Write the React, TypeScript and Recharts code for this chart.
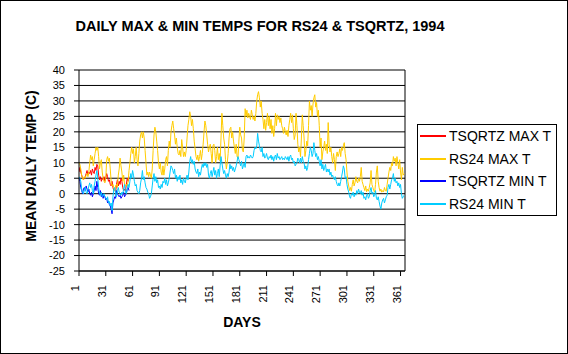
import { LineChart, Line, XAxis, YAxis, CartesianGrid, ReferenceLine, Customized } from 'recharts';

// daily values, one entry per day
const rs24Max = [
  10, 9.5, 8, 6, 5, 4.5, 5.5, 5, 6, 6.5,
  5.5, 7, 10, 12.5, 11, 12, 9, 11, 13, 15,
  14, 15, 12, 8, 10, 11, 7, 5, 4, 3.5,
  5, 11, 12, 10.5, 11.5, 8, 4, 2.5, 3, 2,
  1, 2.5, 3, 2, 6, 8, 11.5, 9, 7, 4,
  6, 3, 2.5, 3, 2.5, 4, 7.5, 10, 13, 15,
  13, 14.5, 10, 12, 15, 11, 9, 13, 17, 19,
  20, 18, 20, 18, 14, 10, 6, 7, 5.5, 7,
  6, 5, 8, 14, 19, 21.5, 20, 17, 14, 10,
  8, 10, 7, 6, 9, 6, 8, 11, 12, 9,
  14, 17, 15, 20, 22, 23.5, 21, 19, 16, 18,
  15, 13, 12.5, 14, 12, 17.5, 15, 12, 13.5, 12,
  14, 18, 22, 24, 26.5, 25, 22, 24, 21, 17,
  14.5, 12, 11, 12.5, 10.5, 12, 14, 11, 13, 16,
  20, 23.5, 22, 19, 16, 13.5, 15, 16, 13, 10,
  15.5, 16, 14, 10, 12, 15, 11, 13, 10.5, 18,
  26, 22, 18, 16, 11, 8, 10, 13, 18, 21,
  21.5, 18, 20, 17, 15, 13, 16, 12, 11.5, 17,
  21.5, 19, 18, 14, 13.5, 18, 27.5, 25, 27, 24.5,
  26, 25, 24, 27, 25.5, 24, 25, 23.5, 26, 30,
  32, 33, 31, 28, 30, 26, 24, 21, 24, 20.5,
  23, 26, 22, 25, 21, 24, 19.5, 22, 18.5, 21,
  26, 22, 25.5, 24, 25, 23, 24.5, 22, 21, 19.5,
  21.5, 20, 19, 20.5, 18.5, 22, 24, 26, 23, 25.5,
  21, 17.5, 19, 26, 22, 16, 13.5, 15, 12, 18,
  25.5, 22, 18, 12, 14, 17, 15.5, 22, 30, 27,
  28.5, 25, 29, 31, 32, 28, 29.5, 25, 27, 22,
  15, 18, 11, 13.5, 15, 17, 14, 16, 13, 23,
  16, 13.5, 15, 12, 10, 13, 11, 7.5, 12, 13.5,
  12, 13, 14.5, 12, 15, 14, 15.5, 16.5, 13, 11,
  7, 4, 2.5, 1, 2, 0.8, 3, 4.5, 2.5, 3.5,
  5.5, 4, 3.5, 5, 4, 5.5, 8.5, 4, 3, 2,
  1, 2.5, 0.6, 1.5, 0.8, 2, 3.5, 7.5, 3, 2,
  1, 0.5, 3, 7, 9, 4, 2, 0.8, 1.5, 0.5,
  1, 0.6, 2, 1, 0.8, 3, 5, 7, 8.5, 7.5,
  10, 9, 12, 10.5, 11.5, 9, 12, 10, 8, 11,
  7, 4.5, 8.5, 6, 6.5,
];

const rs24Min = [
  5.5, 5, 4, 1.5, 0.5, 0, 1, 2, 0.5, 0,
  1, 2.5, 3.5, 2, 3, 1, 0, 2.5, 4, 6,
  7.5, 5, 2, 0, -0.5, 0.5, -1, -0.5, 0, -1,
  -1.5, -2, -1, -3, -2.5, -4, -3, -5.5, -1, 1.5,
  2, 0, -1, 1, 2, 0.5, 0, -0.5, 0.5, 0,
  1.5, 3, 0.5, 0, 1.5, 3, 2, 4, 6.5, 5,
  7.5, 6, 4, 2.5, 3, 1, 0.5, 0, 1, 3.5,
  5, 7.5, 4.5, 5.5, 3.5, 2, 1.5, 0.5, 0, -1.5,
  -1, 0, 2.5, 5, 6.5, 4, 5.5, 3.5, 4.5, 2,
  2.5, 1.5, 3, 2, 4, 3.5, 5, 3, 4.5, 2.5,
  3.5, 5, 7, 9, 8.5, 7.5, 6.5, 8, 5, 6,
  4, 5.5, 4.5, 6, 3.5, 4.5, 3, 5, 4, 3.5,
  5, 6, 4.5, 7, 10.5, 12, 10, 11, 9.5, 10.5,
  8, 7, 6.5, 8, 5.5, 7, 6, 8, 9.5, 8.5,
  10, 9, 10, 8.5, 9.5, 6, 5, 6.5, 7.5, 5.5,
  7, 8.5, 6, 7.5, 5, 6.5, 8, 5.5, 9, 12,
  10, 8, 6.5, 7.5, 6, 5, 6.5, 5.5, 7, 9.5,
  8, 9, 7.5, 8.5, 7, 8, 9, 10.5, 12, 11,
  10, 9, 10.5, 8, 9, 10, 8.5, 12, 12.5, 11.5,
  12, 11.5, 12.5, 12, 11.5, 12, 14, 15, 14.5, 15.5,
  19.5, 17, 15.5, 14, 13.5, 15, 12, 13, 11.5, 12,
  13, 11.5, 11, 12, 11.5, 12.5, 11, 12, 10.5, 12,
  12.5, 11, 13, 11.5, 12, 11, 11.5, 12, 11, 11.5,
  11, 12, 11.5, 11, 12, 10.5, 12, 12.5, 11, 11.5,
  10, 10.5, 9, 9.5, 10, 11.5, 11, 10, 11.5, 10,
  12, 10.5, 10, 8, 9, 7.5, 8.5, 11, 13, 15,
  14, 12, 13, 16.5, 14, 12, 13, 11, 12, 10.5,
  9, 11, 8, 9.5, 7.5, 8.5, 9.5, 7, 8, 7,
  8, 6, 7, 5.5, 6, 5, 4.5, 5.5, 4, 3,
  2.5, 3.5, 2.5, 4, 5.5, 7, 9, 8, 5, 5.5,
  3, 1.5, 0.5, -1, -1.5, 0, -0.5, 0.5, -1, 0,
  -0.5, 1, 0, 1.5, 0.5, 0, 1, -0.5, 0.5, -1.5,
  -1, -2, -0.5, 0, -1.5, -1, 1, 2, 0, 0.5,
  -1, -0.5, 1, -1.5, -2, -1, -2.5, -4, -5, -3,
  -2, -1.5, -3, -2, -1, -0.5, 2, 3, 1.5, 3,
  4.5, 5, 6.5, 4, 5, 3.5, 4, 2.5, 3.5, 2,
  3, 0, -1.5, -1, -0.5,
];

// TSQRTZ only logged the first 57 days
const tsqMax = [
  7, 8.5, 7, 6, 5, 4.5, 5, 5.5, 6.5, 7.5,
  6, 7, 6.5, 7.5, 6, 8, 7, 6.5, 8.5, 7.5,
  9.5, 9, 6, 4.5, 5.5, 4, 5, 4.5, 5.5, 4,
  5, 6.5, 5.5, 4, 4.5, 3, 2.5, 4, 2, 1,
  1.5, 0.5, 3, 4.5, 2.5, 4, 3, 5, 4, 2,
  1, 1.5, 0.8, 3, 5, 4, 5.5,
];

const tsqMin = [
  5, 4, 2, 1, 0, 1.5, 2, 1, 2.5, 1.5,
  0.5, 1.5, 0, -0.5, 0.5, -1, 0, 1, 2.5, 1,
  4, 2, 0, -0.5, 1, -1, 0, -1.5, -0.5, -1,
  -2, -1.5, -3, -2.5, -3.5, -4, -5, -6.5, -3, -2,
  -1, -1.5, 1, 0, -0.5, -1, -0.5, -1.5, -1, -0.5,
  0.5, -1, -0.5, 0, 1.5, 2, 1,
];

const dayTicks = [1, 31, 61, 91, 121, 151, 181, 211, 241, 271, 301, 331, 361];
const tempTicks = [-25, -20, -15, -10, -5, 0, 5, 10, 15, 20, 25, 30, 35, 40];

const series = [
  { key: 'tsqMax', name: 'TSQRTZ MAX T', color: '#ff0000' },
  { key: 'rs24Max', name: 'RS24 MAX T', color: '#ffcc00' },
  { key: 'tsqMin', name: 'TSQRTZ MIN T', color: '#0000ff' },
  { key: 'rs24Min', name: 'RS24 MIN T', color: '#00ccff' },
];

const data = rs24Max.map((v, i) => ({
  day: i + 1,
  rs24Max: v,
  rs24Min: rs24Min[i],
  tsqMax: tsqMax[i],
  tsqMin: tsqMin[i],
}));

const FONT = 'Arial, "Liberation Sans", sans-serif';

function DayTick(props: any) {
  const { x, y, payload } = props;
  const ty = y + 7;
  return (
    <text x={x} y={ty} transform={`rotate(-90 ${x} ${ty})`} textAnchor="end" fontSize={11} fontFamily={FONT} fill="#000">
      {payload.value}
    </text>
  );
}

function YTitle() {
  return (
    <text x={36} y={166} transform="rotate(-90 36 166)" textAnchor="middle" fontSize={14} fontWeight="bold" fontFamily={FONT} fill="#000">
      MEAN DAILY TEMP (C)
    </text>
  );
}

function XTitle() {
  return (
    <text x={242} y={327} textAnchor="middle" fontSize={14} fontWeight="bold" fontFamily={FONT} fill="#000">
      DAYS
    </text>
  );
}

function Title() {
  return (
    <text x={260} y={31} textAnchor="middle" fontSize={14.5} fontWeight="bold" fontFamily={FONT} fill="#000">
      DAILY MAX &amp; MIN TEMPS FOR RS24 &amp; TSQRTZ, 1994
    </text>
  );
}

function LegendBox() {
  return (
    <div style={{ position: 'absolute', left: 417, top: 124, width: 140, height: 92, border: '1px solid #000', boxSizing: 'border-box', background: '#fff', fontFamily: FONT, fontSize: 14 }}>
      {series.map((s, i) => (
        <div key={s.key} style={{ position: 'absolute', left: 2, top: Math.round(1 + i * 22.7), height: 20, display: 'flex', alignItems: 'center', whiteSpace: 'nowrap' }}>
          <span style={{ display: 'inline-block', width: 26, height: 2, background: s.color, marginRight: 3 }} />
          <span>{s.name}</span>
        </div>
      ))}
    </div>
  );
}

export default function App() {
  return (
    <div style={{ position: 'absolute', left: 0, top: 0, width: 568, height: 354, background: '#fff' }}>
      <LineChart width={568} height={354} data={data} margin={{ top: 70, right: 163, bottom: 53, left: 0 }}>
        <CartesianGrid vertical={false} stroke="#000" strokeWidth={1} />
        <XAxis
          dataKey="day"
          type="number"
          domain={[1, 366]}
          ticks={dayTicks}
          interval={0}
          height={30}
          axisLine={{ stroke: '#000' }}
          tickLine={{ stroke: '#000' }}
          tickSize={5}
          tick={<DayTick />}
          allowDataOverflow
          label={<XTitle />}
        />
        <YAxis
          domain={[-25, 40]}
          ticks={tempTicks}
          interval={0}
          width={79}
          axisLine={{ stroke: '#000' }}
          tickLine={{ stroke: '#000' }}
          tickSize={5}
          tickMargin={9}
          tick={{ fill: '#000', fontSize: 11, fontFamily: FONT }}
          label={<YTitle />}
        />
        <ReferenceLine x={366} stroke="#000" ifOverflow="visible" />
        {series.map((s) => (
          <Line
            key={s.key}
            type="linear"
            dataKey={s.key}
            name={s.name}
            stroke={s.color}
            strokeWidth={1}
            dot={false}
            activeDot={false}
            isAnimationActive={false}
          />
        ))}
        <Customized component={<Title />} />
      </LineChart>
      <LegendBox />
      <div style={{ position: 'absolute', left: 0, top: 0, width: 568, height: 354, border: '1px solid #000', boxSizing: 'border-box', pointerEvents: 'none' }} />
    </div>
  );
}
